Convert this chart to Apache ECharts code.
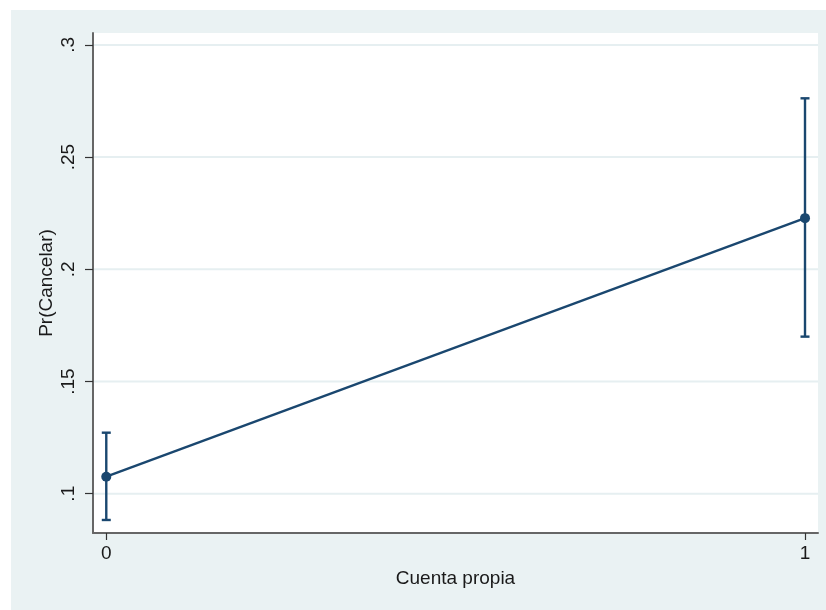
<!DOCTYPE html>
<html>
<head>
<meta charset="utf-8">
<script src="https://cdn.jsdelivr.net/npm/echarts@6/dist/echarts.min.js"></script>
<style>
  html, body { margin: 0; padding: 0; background: #ffffff; }
  #chart { width: 826px; height: 610px; }
</style>
</head>
<body>
<div id="chart"></div>
<script>
// Predictive margins of Pr(Cancelar) by "Cuenta propia", with 95% CIs
const categories = [0, 1];
const xTickLabels = ['0', '1'];
const margins = [0.1076, 0.2228];
const ciLower = [0.0883, 0.1700];
const ciUpper = [0.1272, 0.2762];
const yTicks = [0.1, 0.15, 0.2, 0.25, 0.3];
const yTickLabels = ['.1', '.15', '.2', '.25', '.3'];

const navy = '#1a476f';
const fontFamily = '"Liberation Sans", Arial, sans-serif';

const chart = echarts.init(document.getElementById('chart'), null, { renderer: 'canvas' });

const pointData = categories.map((c, i) => [c, margins[i]]);
const ciData = categories.map((c, i) => [c, ciLower[i], ciUpper[i]]);

chart.setOption({
  animation: false,
  backgroundColor: '#ffffff',
  graphic: [{
    type: 'rect',
    z: -10,
    silent: true,
    shape: { x: 11, y: 10, width: 815, height: 600 },
    style: { fill: '#eaf2f3' }
  }],
  grid: {
    left: 93, top: 33, right: 8, bottom: 77,
    show: true, backgroundColor: '#ffffff', borderWidth: 0
  },
  xAxis: {
    type: 'value',
    min: -0.019, max: 1.0186,
    name: 'Cuenta propia',
    nameLocation: 'middle',
    nameGap: 36,
    nameMoveOverlap: false,
    nameTextStyle: { color: '#1a1a1a', fontSize: 19, fontFamily },
    axisLine: { show: true, onZero: false, lineStyle: { color: '#666666', width: 2 } },
    axisTick: { show: true, length: 7, customValues: categories, lineStyle: { color: '#333333', width: 1.2 } },
    axisLabel: {
      customValues: categories,
      formatter: v => xTickLabels[categories.indexOf(Math.round(v))] ?? '',
      color: '#1a1a1a', fontSize: 19, fontFamily, margin: 11
    },
    splitLine: { show: false }
  },
  yAxis: {
    type: 'value',
    min: 0.0825, max: 0.3053,
    name: 'Pr(Cancelar)',
    nameLocation: 'middle',
    nameRotate: 90,
    nameGap: 37,
    nameMoveOverlap: false,
    nameTextStyle: { color: '#1a1a1a', fontSize: 19, fontFamily },
    axisLine: { show: true, onZero: false, lineStyle: { color: '#666666', width: 2 } },
    axisTick: { show: true, length: 8, customValues: yTicks, lineStyle: { color: '#333333', width: 1.2 } },
    axisLabel: {
      customValues: yTicks,
      rotate: 90,
      formatter: v => {
        const i = yTicks.findIndex(t => Math.abs(t - v) < 1e-9);
        return i >= 0 ? yTickLabels[i] : '';
      },
      color: '#1a1a1a', fontSize: 19, fontFamily, margin: 15
    },
    splitLine: { show: false }
  },
  series: [
    {
      // horizontal grid lines at the y tick values
      type: 'custom',
      z: 1,
      silent: true,
      data: yTicks.map(t => [t]),
      renderItem: (params, api) => {
        const cs = params.coordSys;
        const y = api.coord([0, api.value(0)])[1];
        return {
          type: 'line',
          shape: { x1: cs.x + 1, y1: y, x2: cs.x + cs.width, y2: y },
          style: { stroke: '#e6eff1', lineWidth: 2 }
        };
      },
      encode: { y: 0 }
    },
    {
      // confidence interval bars with caps
      type: 'custom',
      z: 3,
      data: ciData,
      renderItem: (params, api) => {
        const x = api.value(0);
        const lo = api.coord([x, api.value(1)]);
        const hi = api.coord([x, api.value(2)]);
        const cap = 4.5;
        const style = { stroke: navy, lineWidth: 2.4 };
        return {
          type: 'group',
          children: [
            { type: 'line', shape: { x1: lo[0], y1: lo[1], x2: hi[0], y2: hi[1] }, style },
            { type: 'line', shape: { x1: lo[0] - cap, y1: lo[1], x2: lo[0] + cap, y2: lo[1] }, style },
            { type: 'line', shape: { x1: hi[0] - cap, y1: hi[1], x2: hi[0] + cap, y2: hi[1] }, style }
          ]
        };
      }
    },
    {
      type: 'line',
      z: 4,
      data: pointData,
      symbol: 'circle',
      symbolSize: 10,
      itemStyle: { color: navy },
      lineStyle: { color: navy, width: 2.4 }
    }
  ]
});
</script>
</body>
</html>
